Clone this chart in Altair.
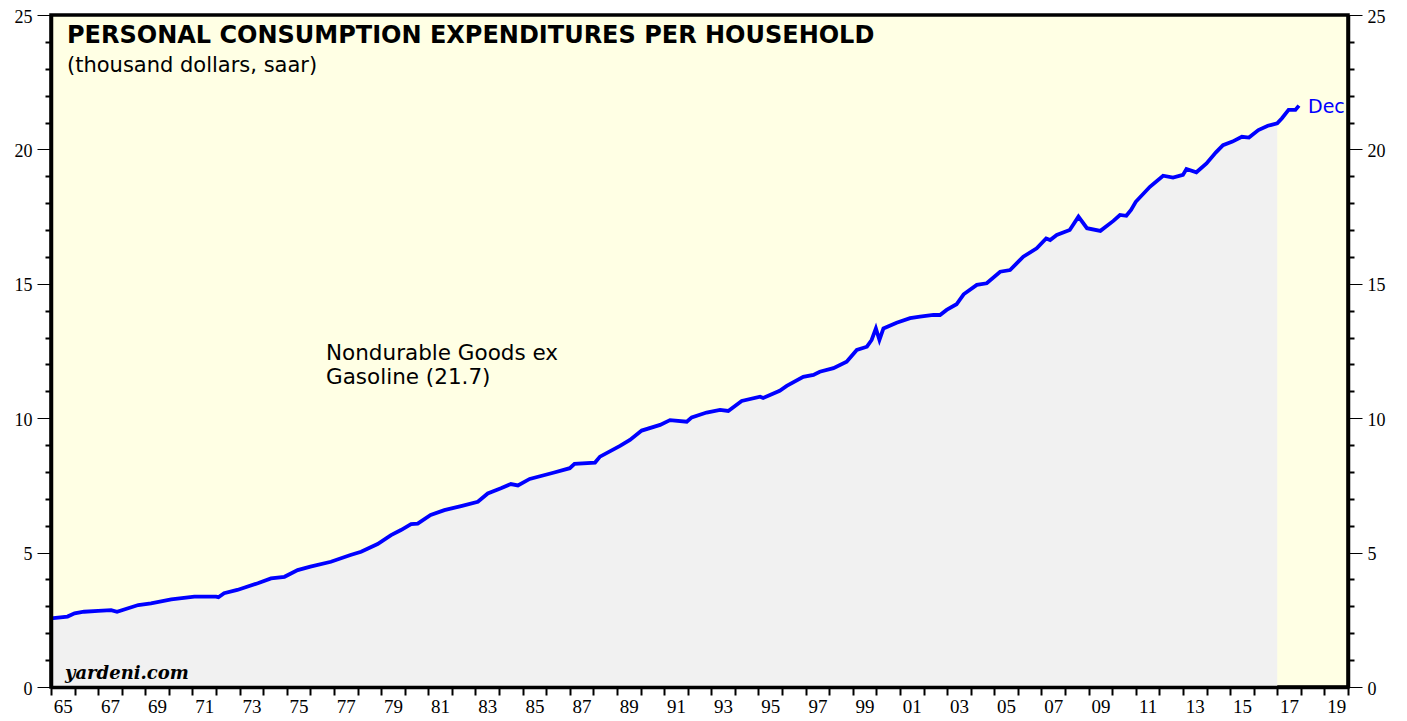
import altair as alt
import pandas as pd

# ---- data (decimal year, thousand $) ----
years = [1965.0, 1965.7, 1966.0, 1966.4, 1967.0, 1967.55, 1967.8, 1968.7, 1969.24, 1970.1,
         1971.08, 1972.0, 1972.1, 1972.34, 1972.9, 1973.77, 1974.33, 1974.9, 1975.46, 1976.0,
         1976.87, 1977.7, 1978.15, 1978.85, 1979.42, 1979.84, 1980.27, 1980.55, 1981.1, 1981.68,
         1982.39, 1983.1, 1983.52, 1984.08, 1984.5, 1984.8, 1985.3, 1986.3, 1987.0, 1987.2,
         1988.07, 1988.28, 1989.13, 1989.55, 1990.05, 1990.83, 1991.25, 1991.96, 1992.17, 1992.8,
         1993.37, 1993.72, 1994.29, 1995.07, 1995.2, 1995.9, 1996.2, 1996.9, 1997.33, 1997.6,
         1998.18, 1998.74, 1999.17, 1999.6, 1999.8, 1999.98, 2000.13, 2000.3, 2000.86, 2001.43,
         2001.85, 2002.42, 2002.7, 2002.98, 2003.4, 2003.7, 2004.26, 2004.68, 2005.25, 2005.67,
         2006.23, 2006.8, 2007.2, 2007.37, 2007.65, 2008.2, 2008.57, 2008.93, 2009.5, 2010.05,
         2010.33, 2010.6, 2010.8, 2011.0, 2011.6, 2012.16, 2012.58, 2013.0, 2013.15, 2013.57,
         2014.0, 2014.4, 2014.7, 2015.1, 2015.5, 2015.8, 2016.2, 2016.6, 2017.0, 2017.2,
         2017.48, 2017.77, 2017.92]
values = [2.55, 2.62, 2.74, 2.80, 2.83, 2.86, 2.80, 3.05, 3.11, 3.26,
          3.36, 3.36, 3.34, 3.49, 3.61, 3.86, 4.04, 4.10, 4.35, 4.48,
          4.66, 4.91, 5.03, 5.32, 5.65, 5.84, 6.06, 6.08, 6.40, 6.58,
          6.73, 6.89, 7.20, 7.39, 7.55, 7.50, 7.74, 7.97, 8.14, 8.30,
          8.35, 8.57, 8.97, 9.19, 9.54, 9.75, 9.93, 9.87, 10.03, 10.21,
          10.31, 10.27, 10.64, 10.80, 10.75, 11.02, 11.20, 11.54, 11.61, 11.73,
          11.86, 12.10, 12.54, 12.66, 12.91, 13.34, 12.91, 13.34, 13.55, 13.72,
          13.78, 13.84, 13.84, 14.03, 14.24, 14.61, 14.96, 15.02, 15.45, 15.51,
          16.01, 16.32, 16.69, 16.63, 16.82, 17.00, 17.50, 17.07, 16.97, 17.34,
          17.56, 17.53, 17.75, 18.05, 18.61, 19.02, 18.95, 19.05, 19.27, 19.15,
          19.48, 19.89, 20.16, 20.29, 20.47, 20.44, 20.72, 20.88, 20.97, 21.16,
          21.47, 21.47, 21.63]

shade_end = 2017.0
year_ticks = list(range(1965, 2021))
year_labels = [y + 0.5 for y in range(1965, 2020, 2)]
y_major = [0, 5, 10, 15, 20, 25]
y_minor = [v for v in range(0, 26) if v % 5 != 0]

title_text = "PERSONAL CONSUMPTION EXPENDITURES PER HOUSEHOLD"
subtitle_text = "(thousand dollars, saar)"
series_label = ["Nondurable Goods ex", "Gasoline (21.7)"]
end_label = "Dec"
source_text = "yardeni.com"

df = pd.DataFrame({"year": years, "value": values})

W, H = 1297, 672
xscale = alt.Scale(domain=[1965, 2020], nice=False, zero=False)
yscale = alt.Scale(domain=[0, 25], nice=False, zero=True)

serif = "Liberation Serif, Times New Roman, Times, serif"
sans = "DejaVu Sans"
DW = 3.5

base = alt.Chart(df)

area = base.transform_filter(f"datum.year <= {shade_end}").mark_area(
    color="#f1f1f1", opacity=1
).encode(
    x=alt.X("year:Q", scale=xscale, title=None,
            axis=alt.Axis(orient="bottom", values=year_ticks, tickSize=8, tickWidth=2,
                          tickColor="black", labels=False, domain=True, domainColor="black",
                          domainWidth=DW, grid=False, zindex=1)),
    y=alt.Y("value:Q", scale=yscale, title=None,
            axis=alt.Axis(orient="left", values=y_major, tickSize=14, tickWidth=1,
                          tickColor="black", labelFont=serif, labelFontSize=18,
                          labelColor="black", labelPadding=5, labelOffset=2, domain=True,
                          domainColor="black", domainWidth=DW, grid=False, zindex=1)),
)

line = base.mark_line(color="#0000ff", strokeWidth=3.8).encode(
    x=alt.X("year:Q", scale=xscale, title=None,
            axis=alt.Axis(orient="bottom", values=year_labels, ticks=False, tickSize=0,
                          labelExpr="format(floor(datum.value) % 100, '02d')",
                          labelFont=serif, labelFontSize=19, labelColor="black",
                          labelPadding=10, domain=False, grid=False, labelFlush=False,
                          labelOverlap=False)),
    y=alt.Y("value:Q", scale=yscale, title=None,
            axis=alt.Axis(orient="right", values=y_major, tickSize=14, tickWidth=1,
                          tickColor="black", labelFont=serif, labelFontSize=18,
                          labelColor="black", labelPadding=5, labelOffset=2, domain=True,
                          domainColor="black", domainWidth=DW, grid=False, zindex=1)),
)

minor_left = base.mark_line(opacity=0).encode(
    x=alt.X("year:Q", scale=xscale, axis=None),
    y=alt.Y("value:Q", scale=yscale, title=None,
            axis=alt.Axis(orient="left", values=y_minor, tickSize=6, tickWidth=2,
                          tickColor="black", labels=False, domain=False, grid=False, zindex=1)),
)
minor_right = base.mark_line(opacity=0).encode(
    x=alt.X("year:Q", scale=xscale, axis=None),
    y=alt.Y("value:Q", scale=yscale, title=None,
            axis=alt.Axis(orient="right", values=y_minor, tickSize=6, tickWidth=2,
                          tickColor="black", labels=False, domain=False, grid=False, zindex=1)),
)


def text_layer(txt, px, py, size, color="black", weight="normal", style="normal",
               font=sans, line_height=None):
    kw = dict(align="left", baseline="alphabetic", fontSize=size, color=color,
              fontWeight=weight, fontStyle=style, font=font)
    if line_height is not None:
        kw["lineHeight"] = line_height
    return alt.Chart(alt.Data(values=[{"t": txt}])).mark_text(**kw).encode(
        text="t:N", x=alt.value(px), y=alt.value(py))


title = text_layer(title_text, 16, 28, 24, weight="bold")
subtitle = text_layer(subtitle_text, 16, 57, 21)
label = text_layer(series_label, 275, 345, 21.5, line_height=23.5)
dec = text_layer(end_label, 1257, 98, 19, color="#0000ff")
source = text_layer(source_text, 14, 664, 18, weight="bold", style="italic",
                    font="DejaVu Serif")

chart = alt.layer(
    area, line, minor_left, minor_right, title, subtitle, label, dec, source
).resolve_axis(x="independent", y="independent").properties(
    width=W, height=H,
    autosize=alt.AutoSizeParams(type="none"),
    padding={"left": 43, "top": 7, "right": 45, "bottom": 34},
).configure_view(
    fill="#ffffe4", stroke="black", strokeWidth=DW
)

chart.save("out.html", embed_options={"renderer": "svg", "actions": False})
